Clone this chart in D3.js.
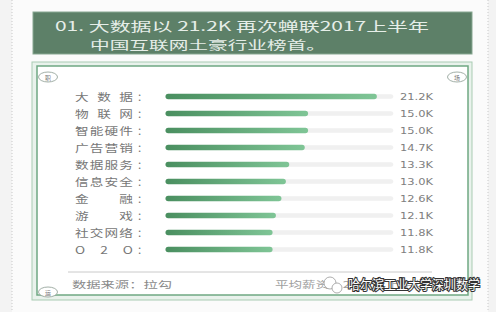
<!DOCTYPE html>
<html>
<head>
<meta charset="utf-8">
<script src="https://cdn.jsdelivr.net/npm/d3@7"></script>
<style>
  body { margin: 0; background: #f3f3f3; }
  svg { display: block; font-family: "Noto Sans CJK SC", sans-serif; }
</style>
</head>
<body>
<div id="chart"></div>
<script>
// Data
const categories = ["大数据", "物联网", "智能硬件", "广告营销", "数据服务", "信息安全", "金融", "游戏", "社交网络", "O2O"];
const salaries = [21.2, 15.0, 15.0, 14.7, 13.3, 13.0, 12.6, 12.1, 11.8, 11.8];
const valueLabels = ["21.2K", "15.0K", "15.0K", "14.7K", "13.3K", "13.0K", "12.6K", "12.1K", "11.8K", "11.8K"];
const titleLines = ["01. 大数据以 21.2K 再次蝉联2017上半年", "中国互联网土豪行业榜首。"];
const footerLeft = "数据来源：拉勾";
const footerRight = "平均薪资：2017年上半年";
const watermark = "哈尔滨工业大学深圳数学";

const width = 496;
const height = 312;

const svg = d3.select("#chart")
    .append("svg")
    .attr("width", width)
    .attr("height", height)
    .attr("viewBox", [0, 0, width, height]);

const defs = svg.append("defs");
const grad = defs.append("linearGradient").attr("id", "barGrad");
grad.append("stop").attr("offset", "0%").attr("stop-color", "#4a8f60");
grad.append("stop").attr("offset", "100%").attr("stop-color", "#7fc596");

// page background with dotted edges
svg.append("rect").attr("x", 12).attr("y", 0).attr("width", 476).attr("height", height)
    .attr("fill", "#fbfbfb");
[12, 488].forEach(x => svg.append("line")
    .attr("x1", x).attr("x2", x).attr("y1", 0).attr("y2", height)
    .attr("stroke", "#c9c9c9").attr("stroke-dasharray", "1,2"));

// title banner
svg.append("rect").attr("x", 33).attr("y", 12).attr("width", 439).attr("height", 42)
    .attr("fill", "#5d8068").attr("stroke", "#87a791");

svg.append("text").attr("x", 55).attr("y", 31)
    .attr("fill", "#e6eee8").attr("font-size", 13)
    .attr("textLength", 374).attr("lengthAdjust", "spacingAndGlyphs")
    .text(titleLines[0]);
svg.append("text").attr("x", 90).attr("y", 49.5)
    .attr("fill", "#e6eee8").attr("font-size", 12)
    .attr("textLength", 236).attr("lengthAdjust", "spacingAndGlyphs")
    .text(titleLines[1]);

// panel frame
svg.append("rect").attr("x", 32).attr("y", 62).attr("width", 440).attr("height", 238)
    .attr("fill", "#e9f2ec").attr("stroke", "#a9ccb3");
svg.append("rect").attr("x", 37).attr("y", 66).attr("width", 431).attr("height", 229)
    .attr("fill", "#ffffff").attr("stroke", "#6fa882").attr("stroke-width", 1.5);

// corner badges
const corners = [["职", 48, 77], ["场", 457, 77], ["运", 48, 292]];
corners.forEach(([t, cx, cy]) => {
    svg.append("ellipse").attr("cx", cx).attr("cy", cy).attr("rx", 9.5).attr("ry", 5)
        .attr("fill", "#fff").attr("stroke", "#8a9a90").attr("stroke-width", 0.8);
    svg.append("text").attr("x", cx).attr("y", cy + 2.5).attr("text-anchor", "middle")
        .attr("font-size", 6).attr("fill", "#777").text(t);
});

// scales
const y = d3.scaleBand()
    .domain(categories)
    .range([88, 258]);

const x = d3.scaleLinear()
    .domain([2.6, 22.7])
    .range([168, 391]);

const rows = svg.append("g")
    .selectAll("g")
    .data(categories)
    .join("g")
    .attr("transform", d => `translate(0,${y(d) + y.bandwidth() / 2})`);

// labels, spread to equal width, glyphs widened
rows.append("text")
    .attr("transform", "translate(75,4) scale(1.3,1)")
    .attr("font-size", 10.5)
    .attr("fill", "#777")
    .attr("textLength", 44.6)
    .attr("lengthAdjust", "spacing")
    .text(d => d);
rows.append("text")
    .attr("x", 137)
    .attr("y", 4)
    .attr("font-size", 10.5)
    .attr("fill", "#777")
    .text("：");

// track
rows.append("line")
    .attr("x1", x.range()[0])
    .attr("x2", x.range()[1])
    .attr("stroke", "#f0f0f0")
    .attr("stroke-width", 4.5)
    .attr("stroke-linecap", "round");

// bar
rows.append("rect")
    .attr("x", x.range()[0] - 2.5)
    .attr("y", -2.7)
    .attr("height", 5.4)
    .attr("rx", 2.7)
    .attr("width", (d, i) => x(salaries[i]) - x.range()[0] + 5)
    .attr("fill", "url(#barGrad)");

// values
rows.append("text")
    .attr("x", 400)
    .attr("y", 3.5)
    .attr("font-family", "DejaVu Sans, sans-serif")
    .attr("font-size", 9)
    .attr("textLength", 33)
    .attr("lengthAdjust", "spacingAndGlyphs")
    .attr("fill", "#808080")
    .text((d, i) => valueLabels[i]);

// footer
svg.append("line").attr("x1", 68).attr("x2", 432).attr("y1", 272).attr("y2", 272)
    .attr("stroke", "#bcbcbc").attr("stroke-width", 0.8);
svg.append("text").attr("x", 72).attr("y", 288).attr("font-size", 9.5)
    .attr("textLength", 100).attr("lengthAdjust", "spacingAndGlyphs")
    .attr("fill", "#8a8a8a").text(footerLeft);
svg.append("text").attr("x", 275).attr("y", 288).attr("font-size", 9.5)
    .attr("textLength", 152).attr("lengthAdjust", "spacingAndGlyphs")
    .attr("fill", "#a0a0a0").text(footerRight);

// watermark (sits over the footer, as in the source image)
const wm = svg.append("g").attr("transform", "translate(330,283)");
wm.append("circle").attr("cx", 0).attr("cy", 0).attr("r", 6)
    .attr("fill", "#fff").attr("stroke", "#999").attr("stroke-width", 0.8);
wm.append("circle").attr("cx", 7).attr("cy", 5).attr("r", 5)
    .attr("fill", "#fff").attr("stroke", "#999").attr("stroke-width", 0.8);
wm.append("text").attr("x", 18).attr("y", 6).attr("font-size", 13)
    .attr("textLength", 132).attr("lengthAdjust", "spacingAndGlyphs")
    .attr("fill", "#fff").attr("stroke", "#333").attr("stroke-width", 2.2)
    .attr("paint-order", "stroke").text(watermark);
</script>
</body>
</html>
